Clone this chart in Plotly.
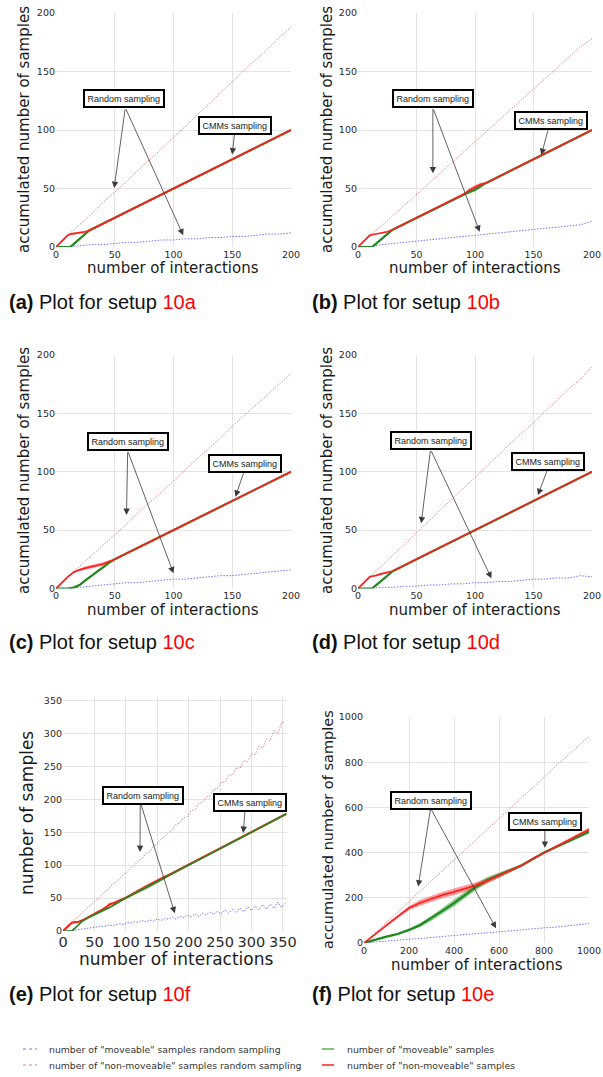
import plotly.graph_objects as go

W, H = 603, 1077
FONT = "DejaVu Sans"
CAP_FONT = "Liberation Sans"

# ---------------- data ----------------
# random sampling series (accumulated counts)
r200_x = [0, 10, 20, 30, 40, 50, 60, 70, 80, 90, 100, 110, 120, 130, 140, 150, 160, 170, 180, 190, 200]

a_rand_mov = [0, 0, 1, 2, 2, 3, 4, 4, 5, 6, 6, 7, 7, 8, 8, 9, 9, 10, 11, 11, 12]
a_rand_non = [0, 10, 19, 28, 38, 47, 56, 66, 75, 84, 94, 103, 113, 122, 132, 141, 151, 160, 169, 179, 188]
b_rand_mov = [0, 0, 2, 3, 4, 5, 6, 7, 8, 9, 10, 11, 12, 13, 14, 15, 16, 17, 18, 19, 22]
b_rand_non = [0, 10, 18, 27, 36, 45, 54, 63, 72, 81, 90, 99, 108, 117, 126, 135, 144, 153, 162, 171, 178]
c_rand_mov = [0, 0, 1, 2, 3, 4, 5, 5, 6, 7, 8, 8, 9, 10, 11, 11, 12, 13, 14, 15, 16]
c_rand_non = [0, 10, 19, 28, 37, 46, 55, 65, 74, 83, 92, 102, 111, 120, 129, 139, 148, 157, 166, 175, 184]
d_rand_mov = [0, 0, 1, 1, 2, 2, 3, 3, 4, 4, 5, 5, 6, 6, 7, 8, 8, 9, 9, 11, 10]
d_rand_non = [0, 10, 19, 29, 38, 48, 57, 67, 76, 86, 95, 105, 114, 124, 133, 142, 152, 161, 171, 179, 190]

e_rx = [0, 6, 12, 18, 24, 30, 36, 42, 48, 54, 60, 66, 72, 78, 84, 90, 96, 102, 108, 114,
        120, 126, 132, 138, 144, 150, 156, 162, 168, 174, 180, 186, 192, 198, 204, 210, 216, 222, 228, 234,
        240, 246, 252, 258, 264, 270, 276, 282, 288, 294, 300, 306, 312, 318, 324, 330, 336, 342, 348, 354]
e_rand_mov = [0, 0, 0, 1, 2, 3, 3, 5, 5, 6, 7, 7, 9, 8, 10, 11, 10, 13, 12, 14,
              13, 16, 14, 17, 15, 18, 16, 19, 18, 21, 18, 22, 20, 24, 21, 26, 22, 27, 24, 29,
              25, 30, 26, 32, 27, 33, 28, 35, 29, 37, 31, 38, 32, 40, 33, 41, 34, 44, 36, 42]
e_rand_non = [0, 6, 12, 17, 22, 27, 33, 37, 43, 48, 53, 59, 63, 70, 74, 79, 86, 89, 96, 100,
              107, 110, 118, 121, 129, 132, 140, 143, 150, 153, 162, 164, 172, 174, 183, 184, 194, 195, 204, 205,
              215, 216, 226, 226, 237, 237, 248, 247, 259, 257, 269, 268, 281, 278, 292, 289, 305, 300, 316, 318]

f_rx = [0, 50, 100, 150, 200, 250, 300, 350, 400, 450, 500, 550, 600, 650, 700, 750, 800, 850, 900, 950, 1000]
f_rand_mov = [0, 5, 10, 12, 17, 20, 25, 28, 33, 37, 42, 45, 50, 55, 58, 62, 67, 70, 75, 80, 86]
f_rand_non = [0, 45, 90, 138, 183, 230, 275, 322, 367, 413, 458, 505, 550, 595, 642, 688, 733, 780, 825, 870, 914]

# CMMs sampling series: mean, lower and upper band
a_cx = [0, 5, 10, 12, 15, 20, 25, 28, 30, 50, 100, 150, 200]
a_non = [0, 5, 10, 11, 11.5, 12, 13, 14, 15, 25, 50, 75, 100]
a_non_lo = [0, 4.5, 9.5, 10, 10.5, 11, 12, 13.5, 15, 25, 50, 75, 100]
a_non_hi = [0, 5.5, 10.5, 11.5, 12.5, 13, 14, 14.5, 15, 25, 50, 75, 100]
a_mov = [0, 0, 0, 0, 2.5, 7, 11.5, 14, 15, 25, 50, 75, 100]
a_mov_lo = [0, 0, 0, 0, 2, 6.5, 11, 13.5, 15, 25, 50, 75, 100]
a_mov_hi = [0, 0, 0, 0.5, 3, 7.5, 12, 14.5, 15, 25, 50, 75, 100]

b_cx = [0, 5, 10, 12, 15, 20, 25, 30, 50, 90, 95, 100, 105, 110, 150, 200]
b_non = [0, 5, 10, 10.5, 11, 12, 13, 15, 25, 45, 48.5, 51, 53.5, 55, 75, 100]
b_non_lo = [0, 4.5, 9.5, 10, 10.5, 11.5, 12.5, 15, 25, 45, 47, 50, 52.5, 55, 75, 100]
b_non_hi = [0, 5.5, 10.5, 11, 11.5, 12.5, 13.5, 15, 25, 45, 50, 53, 55, 55, 75, 100]
b_mov = [0, 0, 0, 0, 2.5, 7, 11, 15, 25, 45, 47, 49, 52, 55, 75, 100]
b_mov_lo = [0, 0, 0, 0, 2, 6.5, 10.5, 15, 25, 45, 45.5, 47.5, 51, 55, 75, 100]
b_mov_hi = [0, 0, 0, 0.5, 3, 7.5, 11.5, 15, 25, 45, 48, 50.5, 53, 55, 75, 100]

c_cx = [0, 5, 10, 15, 17, 20, 25, 30, 35, 40, 45, 50, 100, 150, 200]
c_non = [0, 5, 10, 14, 15, 16, 17.5, 18.5, 19.5, 21, 23, 25, 50, 75, 100]
c_non_lo = [0, 4.5, 9.5, 13, 14, 15, 16, 17, 18, 19.5, 22, 25, 50, 75, 100]
c_non_hi = [0, 5.5, 10.5, 15, 16, 17, 19, 20, 21, 22.5, 24, 25, 50, 75, 100]
c_mov = [0, 0, 0, 0.8, 1.5, 3, 7, 11, 14.5, 18, 22, 25, 50, 75, 100]
c_mov_lo = [0, 0, 0, 0.3, 1, 2.3, 6, 10, 13.5, 17, 21, 25, 50, 75, 100]
c_mov_hi = [0, 0, 0, 1.3, 2, 3.7, 8, 12, 15.5, 19, 23, 25, 50, 75, 100]

d_cx = [0, 5, 10, 12, 15, 20, 25, 30, 50, 100, 150, 200]
d_non = [0, 5, 10, 10.5, 11, 12.5, 13.5, 15, 25, 50, 75, 100]
d_non_lo = [0, 4.5, 9.5, 10, 10.5, 12, 13, 15, 25, 50, 75, 100]
d_non_hi = [0, 5.5, 10.5, 11, 12, 13.5, 14.5, 15, 25, 50, 75, 100]
d_mov = [0, 0, 0, 0, 2.5, 6.5, 10.5, 15, 25, 50, 75, 100]
d_mov_lo = [0, 0, 0, 0, 2, 6, 10, 15, 25, 50, 75, 100]
d_mov_hi = [0, 0, 0, 0.5, 3, 7, 11, 15, 25, 50, 75, 100]

e_cx = [0, 5, 10, 14, 20, 25, 32, 40, 50, 60, 70, 75, 80, 90, 100, 110, 120, 130, 140, 150, 160, 170, 180, 200, 250, 300, 356]
e_non = [0, 4, 9, 12.5, 13.5, 14, 16.5, 20.5, 25.5, 31, 37, 41, 42, 46, 50.5, 55.5, 61, 66, 71, 76, 81, 85.5, 90, 100, 125, 150, 178]
e_non_lo = [0, 3.5, 8, 11.5, 12.5, 13, 15.5, 19.5, 24.5, 30, 36, 39.5, 40.5, 45, 49.5, 53, 58, 63, 68, 73, 78, 84, 89, 100, 125, 150, 178]
e_non_hi = [0, 4.5, 10, 13.5, 14.5, 15, 17.5, 21.5, 26.5, 32, 38, 42.5, 43.5, 47, 51.5, 58, 64, 69, 74, 79, 84, 87, 91, 100, 125, 150, 178]
e_mov = [0, 0, 0, 0, 5, 9.5, 16, 20, 25, 30, 34, 36, 39, 45, 50, 55, 60, 65, 70, 75, 80, 85, 90, 100, 125, 150, 178]
e_mov_lo = [0, 0, 0, 0, 4.5, 9, 15.5, 19.5, 24.5, 29.5, 33.5, 35.5, 38.5, 44, 49, 53, 57, 62, 67, 72, 77.5, 84, 89.5, 100, 125, 150, 178]
e_mov_hi = [0, 0, 0, 0, 5.5, 10, 16.5, 20.5, 25.5, 30.5, 34.5, 36.5, 39.5, 46, 51, 57, 63, 68, 73, 78, 82.5, 86, 90.5, 100, 125, 150, 178]

f_cx = [0, 50, 100, 150, 200, 250, 300, 350, 400, 450, 500, 550, 600, 650, 700, 750, 800, 850, 900, 950, 1000]
f_non = [0, 40, 80, 118, 155, 178, 196, 213, 226, 240, 256, 276, 298, 320, 343, 372, 400, 425, 450, 475, 502]
f_non_lo = [0, 37, 76, 113, 146, 165, 182, 199, 211, 226, 242, 264, 287, 312, 337, 367, 396, 420, 444, 468, 494]
f_non_hi = [0, 43, 84, 123, 164, 191, 210, 227, 241, 254, 270, 288, 309, 328, 349, 377, 404, 430, 456, 482, 510]
f_mov = [0, 15, 28, 40, 58, 80, 110, 143, 176, 213, 250, 280, 302, 322, 343, 372, 400, 423, 446, 468, 492]
f_mov_lo = [0, 12, 24, 35, 52, 71, 99, 130, 162, 199, 236, 267, 291, 314, 337, 367, 396, 418, 440, 461, 484]
f_mov_hi = [0, 18, 32, 45, 64, 89, 121, 156, 190, 227, 264, 293, 313, 330, 349, 377, 404, 428, 452, 475, 500]

panel_titles = ["10a", "10b", "10c", "10d", "10f", "10e"]
panel_letters = ["a", "b", "c", "d", "e", "f"]
y_titles = ["accumulated number of samples"] * 4 + ["number of samples", "accumulated number of samples"]
x_title = "number of interactions"
legend_labels = ['number of "moveable" samples random sampling',
                 'number of "non-moveable" samples random sampling',
                 'number of "moveable" samples',
                 'number of "non-moveable" samples']

# ---------------- styles / geometry ----------------
C_BLUE = "rgba(70,70,255,0.75)"
C_RDOT = "rgba(185,60,60,0.6)"
C_GREEN = "#1f8a1f"
C_RED = "#ff1f1f"
B_GREEN = "rgba(20,150,20,0.45)"
B_RED = "rgba(255,40,40,0.45)"

panels = [
    dict(rx=r200_x, rm=a_rand_mov, rn=a_rand_non, cx=a_cx, n=a_non, nl=a_non_lo, nh=a_non_hi,
         m=a_mov, ml=a_mov_lo, mh=a_mov_hi),
    dict(rx=r200_x, rm=b_rand_mov, rn=b_rand_non, cx=b_cx, n=b_non, nl=b_non_lo, nh=b_non_hi,
         m=b_mov, ml=b_mov_lo, mh=b_mov_hi),
    dict(rx=r200_x, rm=c_rand_mov, rn=c_rand_non, cx=c_cx, n=c_non, nl=c_non_lo, nh=c_non_hi,
         m=c_mov, ml=c_mov_lo, mh=c_mov_hi),
    dict(rx=r200_x, rm=d_rand_mov, rn=d_rand_non, cx=d_cx, n=d_non, nl=d_non_lo, nh=d_non_hi,
         m=d_mov, ml=d_mov_lo, mh=d_mov_hi),
    dict(rx=e_rx, rm=e_rand_mov, rn=e_rand_non, cx=e_cx, n=e_non, nl=e_non_lo, nh=e_non_hi,
         m=e_mov, ml=e_mov_lo, mh=e_mov_hi),
    dict(rx=f_rx, rm=f_rand_mov, rn=f_rand_non, cx=f_cx, n=f_non, nl=f_non_lo, nh=f_non_hi,
         m=f_mov, ml=f_mov_lo, mh=f_mov_hi),
]

# pixel boxes: (left, right, top, bottom), ranges, tick step, fonts
geom = [
    dict(px=(56, 291, 13, 247), xr=[0, 200], yr=[0, 200], xt=50, yt=50, xf=9.5, yf=9.5,
         xtitle=(173, 268, 15), ytitle=(24, 130, 15), cap=(7, 302)),
    dict(px=(358, 592, 13, 247), xr=[0, 200], yr=[0, 200], xt=50, yt=50, xf=9.5, yf=9.5,
         xtitle=(475, 268, 15), ytitle=(327, 130, 15), cap=(310, 302)),
    dict(px=(56, 291, 355, 588.5), xr=[0, 200], yr=[0, 200], xt=50, yt=50, xf=9.5, yf=9.5,
         xtitle=(173, 610, 15), ytitle=(24, 471, 15), cap=(7, 642)),
    dict(px=(358, 592, 355, 588.5), xr=[0, 200], yr=[0, 200], xt=50, yt=50, xf=9.5, yf=9.5,
         xtitle=(475, 610, 15), ytitle=(327, 471, 15), cap=(310, 642)),
    dict(px=(63, 286.6, 696, 931), xr=[0, 356], yr=[0, 357], xt=50, yt=50, xf=14.5, yf=9.5,
         xtitle=(176, 959, 17), ytitle=(27, 813, 17), cap=(7, 994)),
    dict(px=(364, 589, 717, 943), xr=[0, 1000], yr=[0, 1000], xt=200, yt=200, xf=9.5, yf=9.5,
         xtitle=(477, 965, 15), ytitle=(328, 830, 14.5), cap=(310, 994)),
]

# annotation layout per panel (data coords): random box, random arrow start, two arrow tips,
# CMMs box, CMMs arrow start, CMMs arrow tip
ann = [
    dict(rb=(58, 127), rs=(59, 119), rt=[(49.5, 50.4), (108.3, 10)], cb=(152, 104), cs=(152, 97), ct=(150, 79)),
    dict(rb=(64, 126.7), rs=(64, 119), rt=[(64, 63), (104, 13)], cb=(164.7, 108.5), cs=(162.7, 101), ct=(156.7, 78.6)),
    dict(rb=(61, 125.5), rs=(61, 118), rt=[(60, 63), (100, 13)], cb=(160.6, 107), cs=(160, 100), ct=(152.7, 78.6)),
    dict(rb=(62, 127), rs=(62, 119), rt=[(54, 55.8), (114, 8.7)], cb=(162.4, 109), cs=(162, 102), ct=(153.8, 80)),
    dict(rb=(128, 206.5), rs=(123, 196), rt=[(122.6, 120), (178, 27)], cb=(297, 195), cs=(290, 186), ct=(287, 149)),
    dict(rb=(296, 631), rs=(296, 596), rt=[(241, 250), (587, 65)], cb=(804, 539), cs=(804, 512), ct=(804, 421)),
]

fig = go.Figure()
annotations = []
layout = dict(width=W, height=H, margin=dict(l=0, r=0, t=0, b=0, autoexpand=False),
              paper_bgcolor="white", plot_bgcolor="white", showlegend=False,
              font=dict(family=FONT, color="#222"))

for i, (p, g, a) in enumerate(zip(panels, geom, ann)):
    sfx = "" if i == 0 else str(i + 1)
    xa, ya = "x" + sfx, "y" + sfx
    l, r, t, b = g["px"]
    axis_common = dict(showgrid=True, gridcolor="#e3e3e3", gridwidth=1, zeroline=False,
                       showline=False, ticks="", fixedrange=True, automargin=False, tickangle=0)
    layout["xaxis" + sfx] = dict(axis_common, domain=[l / W, r / W], range=g["xr"], anchor=ya,
                                 dtick=g["xt"], tick0=0,
                                 tickfont=dict(family=FONT, size=g["xf"], color="#2a2a2a"))
    layout["yaxis" + sfx] = dict(axis_common, domain=[1 - b / H, 1 - t / H], range=g["yr"], anchor=xa,
                                 dtick=g["yt"], tick0=0,
                                 tickfont=dict(family=FONT, size=g["yf"], color="#2a2a2a"))

    # random sampling (dotted)
    fig.add_trace(go.Scatter(x=p["rx"], y=p["rm"], mode="lines", xaxis=xa, yaxis=ya,
                             line=dict(color=C_BLUE, width=1, dash="1.5px,1.5px"), hoverinfo="skip"))
    fig.add_trace(go.Scatter(x=p["rx"], y=p["rn"], mode="lines", xaxis=xa, yaxis=ya,
                             line=dict(color=C_RDOT, width=1, dash="1.5px,1.5px"), hoverinfo="skip"))
    # bands
    for lo, hi, col in ((p["ml"], p["mh"], B_GREEN), (p["nl"], p["nh"], B_RED)):
        fig.add_trace(go.Scatter(x=p["cx"], y=lo, mode="lines", xaxis=xa, yaxis=ya,
                                 line=dict(width=0, color=col), hoverinfo="skip"))
        fig.add_trace(go.Scatter(x=p["cx"], y=hi, mode="lines", xaxis=xa, yaxis=ya, fill="tonexty",
                                 fillcolor=col, line=dict(width=0, color=col), hoverinfo="skip"))
    # mean lines
    order = [("m", C_GREEN, 2.2), ("n", C_RED, 1.7)]
    if i == 4:
        order = [("n", C_RED, 2.2), ("m", C_GREEN, 1.7)]
    for key, col, lw in order:
        fig.add_trace(go.Scatter(x=p["cx"], y=p[key], mode="lines", xaxis=xa, yaxis=ya,
                                 line=dict(color=col, width=lw), hoverinfo="skip"))

    # arrows
    arrow = dict(xref=xa, yref=ya, axref=xa, ayref=ya, text="", showarrow=True,
                 arrowhead=2, arrowsize=1.6, arrowwidth=0.8, arrowcolor="#3a3a3a", standoff=0)
    for tip in a["rt"]:
        annotations.append(dict(arrow, x=tip[0], y=tip[1], ax=a["rs"][0], ay=a["rs"][1]))
    annotations.append(dict(arrow, x=a["ct"][0], y=a["ct"][1], ax=a["cs"][0], ay=a["cs"][1]))
    box = dict(xref=xa, yref=ya, showarrow=False, bgcolor="white", bordercolor="black",
               borderwidth=2, borderpad=2.5, font=dict(family=CAP_FONT, size=9, color="#222"))
    annotations.append(dict(box, x=a["rb"][0], y=a["rb"][1], text="Random sampling"))
    annotations.append(dict(box, x=a["cb"][0], y=a["cb"][1], text="CMMs sampling"))

    # axis titles
    xt = g["xtitle"]
    annotations.append(dict(xref="paper", yref="paper", x=xt[0] / W, y=1 - xt[1] / H, text=x_title,
                            showarrow=False, xanchor="center", yanchor="middle",
                            font=dict(family=FONT, size=xt[2], color="#1a1a1a")))
    yt = g["ytitle"]
    annotations.append(dict(xref="paper", yref="paper", x=yt[0] / W, y=1 - yt[1] / H, text=y_titles[i],
                            showarrow=False, xanchor="center", yanchor="middle", textangle=-90,
                            font=dict(family=FONT, size=yt[2], color="#1a1a1a")))
    # caption
    cp = g["cap"]
    annotations.append(dict(xref="paper", yref="paper", x=cp[0] / W, y=1 - cp[1] / H,
                            text="<b>(%s)</b> Plot for setup <span style='color:#ff0000'>%s</span>"
                                 % (panel_letters[i], panel_titles[i]),
                            showarrow=False, xanchor="left", yanchor="middle",
                            font=dict(family=CAP_FONT, size=20, color="#111")))

# legend (drawn manually as two columns)
shapes = []
leg_rows = [1049, 1065]
leg_items = [
    (23, 37, 47, leg_rows[0], C_BLUE, "dot", legend_labels[0]),
    (23, 37, 47, leg_rows[1], C_RDOT, "dot", legend_labels[1]),
    (322, 334, 345, leg_rows[0], "rgba(40,150,40,0.75)", "solid", legend_labels[2]),
    (322, 334, 345, leg_rows[1], C_RED, "solid", legend_labels[3]),
]
for x0, x1, tx, yy, col, dash, lab in leg_items:
    shapes.append(dict(type="line", xref="paper", yref="paper", x0=x0 / W, x1=x1 / W,
                       y0=1 - yy / H, y1=1 - yy / H,
                       line=dict(color=col, width=1.5 if dash == "solid" else 1.2, dash=dash)))
    annotations.append(dict(xref="paper", yref="paper", x=tx / W, y=1 - yy / H, text=lab,
                            showarrow=False, xanchor="left", yanchor="middle",
                            font=dict(family=FONT, size=9.3, color="#333")))

layout["annotations"] = annotations
layout["shapes"] = shapes
fig.update_layout(**layout)
fig.write_html("out.html", config={"displayModeBar": False},
               post_script="document.body.style.margin='0';document.body.style.overflow='hidden';")
